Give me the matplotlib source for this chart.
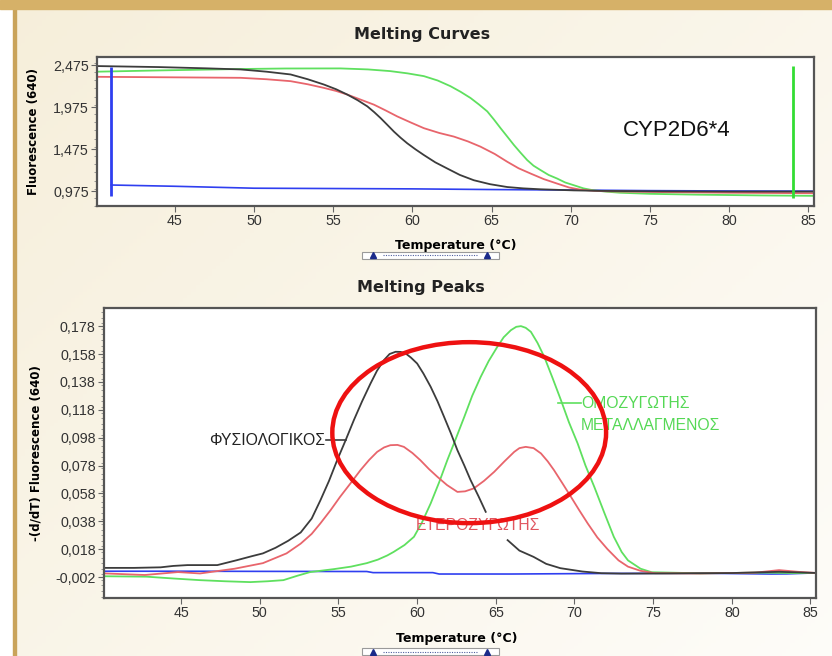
import numpy as np
import matplotlib
matplotlib.use("Agg")
import matplotlib.pyplot as plt
from matplotlib.patches import Ellipse, Rectangle
from matplotlib.ticker import FixedLocator, FuncFormatter, MultipleLocator

# ---- Melting curves (fluorescence vs temperature) ----
curve_black_t = [40.1, 44, 47, 49.16, 50.8, 52.32, 53.4, 54.42, 55.2, 55.9, 56.55, 57.16,
                 57.6, 58.0, 58.42, 58.84, 59.25, 59.68, 60.2, 60.73, 61.45, 62.2, 63.0,
                 63.88, 64.9, 65.99, 67, 68.1, 70.2, 72, 75, 80, 85.3]
curve_black_f = [2.467, 2.455, 2.44, 2.427, 2.40, 2.367, 2.31, 2.247, 2.19, 2.127, 2.06, 1.987,
                 1.917, 1.847, 1.767, 1.686, 1.615, 1.547, 1.475, 1.407, 1.32, 1.247, 1.17,
                 1.107, 1.06, 1.026, 1.01, 0.999, 0.986, 0.98, 0.975, 0.972, 0.972]

curve_red_t = [40.1, 44, 47, 49.16, 50.8, 52.32, 53.4, 54.42, 55.2, 55.9, 56.7, 57.58, 58.3,
               59.05, 59.9, 60.73, 61.7, 62.62, 63.5, 64.3, 65.2, 65.99, 66.7, 67.46, 68.3,
               69.14, 69.9, 70.6, 71.4, 72.3, 76, 80, 85.3]
curve_red_f = [2.339, 2.334, 2.33, 2.327, 2.31, 2.287, 2.25, 2.207, 2.17, 2.127, 2.07, 2.007,
               1.94, 1.867, 1.795, 1.727, 1.67, 1.627, 1.57, 1.507, 1.42, 1.327, 1.25, 1.187,
               1.12, 1.067, 1.02, 0.995, 0.982, 0.975, 0.965, 0.958, 0.952]

curve_green_t = [40.1, 44, 49.16, 52, 55.47, 57.2, 58.6, 59.7, 60.73, 61.6, 62.41, 63.05,
                 63.67, 64.2, 64.73, 65.15, 65.57, 66.0, 66.41, 66.83, 67.25, 67.65, 68.1,
                 68.6, 69.14, 69.65, 70.2, 70.8, 71.45, 72.3, 73.1, 75, 78, 82, 85.3]
curve_green_f = [2.40, 2.415, 2.432, 2.438, 2.439, 2.427, 2.407, 2.38, 2.347, 2.295, 2.227,
                 2.16, 2.087, 2.01, 1.927, 1.83, 1.727, 1.625, 1.527, 1.435, 1.347, 1.28,
                 1.227, 1.17, 1.127, 1.08, 1.047, 1.01, 0.986, 0.97, 0.958, 0.945, 0.935,
                 0.926, 0.921]

curve_blue_t = [41.0, 45, 50, 55, 60, 65, 70, 75, 80, 85.3]
curve_blue_f = [1.05, 1.035, 1.012, 1.008, 1.004, 0.996, 0.99, 0.983, 0.979, 0.977]

# cursor lines on the melting-curve panel
cursor_left = (41.0, 0.92, 2.45)
cursor_right = (84.0, 0.89, 2.467)

# ---- Melting peaks (-dF/dT vs temperature) ----
peak_black_t = [40.1, 42, 43.7, 44.5, 45.4, 46.5, 47.3, 48.5, 49.5, 50.2, 51.0, 51.8, 52.6,
                53.3, 53.85, 54.4, 54.92, 55.45, 55.98, 56.5, 57.04, 57.45, 57.89, 58.25,
                58.63, 58.95, 59.27, 59.6, 60.0, 60.4, 60.86, 61.3, 61.71, 62.15, 62.56,
                63.0, 63.4, 63.9, 64.36, 64.9, 65.75, 66.5, 67.4, 68.2, 69.1, 70.5, 71.7,
                73, 76, 80, 83, 85.3]
peak_black_v = [0.0046, 0.0046, 0.005, 0.006, 0.0066, 0.0066, 0.0066, 0.010, 0.013, 0.015,
                0.019, 0.024, 0.030, 0.040, 0.053, 0.067, 0.0819, 0.096, 0.1106, 0.124,
                0.1369, 0.146, 0.1536, 0.158, 0.1596, 0.1595, 0.1584, 0.1555, 0.1512,
                0.144, 0.1345, 0.124, 0.113, 0.101, 0.089, 0.078, 0.0675, 0.056, 0.0448,
                np.nan, 0.0245, 0.017, 0.0125, 0.0075, 0.0044, 0.002, 0.0008, 0.0005,
                0.0006, 0.0009, 0.0018, 0.001]

peak_red_t = [40.2, 42.7, 44.8, 46.2, 48.4, 50.2, 51.7, 52.6, 53.3, 53.85, 54.5, 55.1, 55.75,
              56.4, 56.95, 57.46, 57.9, 58.3, 58.75, 59.16, 59.7, 60.2, 60.75, 61.29, 61.9,
              62.56, 63.05, 63.6, 64.25, 64.9, 65.55, 66.17, 66.5, 66.9, 67.4, 67.87, 68.3,
              68.7, 69.25, 69.78, 70.3, 70.84, 71.45, 72.1, 72.8, 73.4, 74.2, 75.1, 78,
              81.5, 83, 84.2, 85.3]
peak_red_v = [0.0006, -0.0005, 0.0016, 0.0006, 0.004, 0.008, 0.015, 0.022, 0.029, 0.0365,
              0.046, 0.0555, 0.065, 0.0747, 0.082, 0.0878, 0.091, 0.0926, 0.0928, 0.0914,
              0.087, 0.0819, 0.0755, 0.0699, 0.064, 0.0591, 0.0595, 0.0616, 0.067, 0.0735,
              0.081, 0.0878, 0.0905, 0.0914, 0.0905, 0.0867, 0.081, 0.0747, 0.065, 0.0555,
              0.046, 0.0365, 0.0265, 0.018, 0.010, 0.0055, 0.0025, 0.0008, 0.0006, 0.0012,
              0.003, 0.0018, 0.001]

peak_green_t = [40.1, 42.8, 44.5, 46.2, 47.8, 49.4, 50.5, 51.5, 52.4, 53.2, 54.7, 55.8, 56.8,
                57.5, 58.1, 58.5, 59.2, 59.8, 60.3, 60.86, 61.4, 61.92, 62.45, 63.0, 63.5,
                64.04, 64.55, 65.1, 65.5, 65.96, 66.3, 66.6, 66.9, 67.23, 67.65, 68.08, 68.6,
                69.14, 69.65, 70.2, 70.7, 71.26, 71.9, 72.5, 73.0, 73.4, 74.2, 74.9, 78, 82,
                84, 85.3]
peak_green_v = [-0.0014, -0.0017, -0.003, -0.0042, -0.005, -0.0056, -0.005, -0.0042, -0.001,
                0.0016, 0.0037, 0.0055, 0.008, 0.0105, 0.0135, 0.016, 0.021, 0.0269, 0.037,
                0.0508, 0.066, 0.0819, 0.097, 0.113, 0.128, 0.1416, 0.153, 0.1632, 0.170,
                0.1751, 0.1775, 0.178, 0.1768, 0.1739, 0.166, 0.156, 0.141, 0.1249, 0.109,
                0.0939, 0.078, 0.0627, 0.044, 0.0269, 0.016, 0.010, 0.004, 0.0015, 0.0007,
                0.0012, 0.0009, 0.001]

peak_blue_t = [40.1, 45, 50, 56.8, 57.2, 61, 61.4, 66, 72, 78, 82.5, 83.5, 85.3]
peak_blue_v = [0.0022, 0.0022, 0.0021, 0.002, 0.0012, 0.0012, 0.0002, 0.0002, 0.0006,
               0.0008, 0.0002, 0.0003, 0.001]

curve_ticks = [0.975, 1.475, 1.975, 2.475]
peak_ticks = [-0.002, 0.018, 0.038, 0.058, 0.078, 0.098, 0.118, 0.138, 0.158, 0.178]
temp_ticks = [45, 50, 55, 60, 65, 70, 75, 80, 85]

BLACK = "#3c3c3c"
RED = "#e8656c"
GREEN = "#5fe05f"
BLUE = "#2f3ff0"

plt.rcParams["font.family"] = ["Liberation Sans", "DejaVu Sans"]


def comma(v, _pos=None):
    return f"{v:.3f}".replace(".", ",")


def style_axes(ax, yticks, minor_step):
    for s in ax.spines.values():
        s.set_color("#555555")
        s.set_linewidth(1.6)
    ax.set_facecolor("white")
    ax.set_xlim(40.1, 85.35)
    ax.xaxis.set_major_locator(FixedLocator(temp_ticks))
    ax.yaxis.set_major_locator(FixedLocator(yticks))
    ax.yaxis.set_major_formatter(FuncFormatter(comma))
    ax.yaxis.set_minor_locator(MultipleLocator(minor_step))
    ax.tick_params(axis="both", which="major", length=4, width=0.8, color="#666666",
                   labelsize=10.3, labelcolor="#333333", pad=2)
    ax.tick_params(axis="y", which="minor", length=2, width=0.6, color="#888888")


fig = plt.figure(figsize=(8.32, 6.56), dpi=100)

# cream page background with gold frame
bg = fig.add_axes([0, 0, 1, 1], zorder=-10)
gx = np.linspace(0, 1, 200)
gy = np.linspace(0, 1, 200)
GX, GY = np.meshgrid(gx, gy)
shade = 0.55 * (1 - GX) + 0.45 * GY
c0 = np.array([0.995, 0.99, 0.975])
c1 = np.array([0.965, 0.935, 0.855])
img = c0 + (c1 - c0) * shade[..., None]
bg.imshow(img, extent=[0, 1, 0, 1], aspect="auto", origin="lower")
bg.add_patch(Rectangle((0, 0), 14 / 832, 1, color="white", transform=bg.transAxes))
bg.add_patch(Rectangle((13 / 832, 0), 2.5 / 832, 1, color="#c9a35a", transform=bg.transAxes))
bg.add_patch(Rectangle((0, 1 - 9 / 656), 1, 9 / 656, color="#d6b168", transform=bg.transAxes))
bg.set_xlim(0, 1)
bg.set_ylim(0, 1)
bg.axis("off")


def scrollbar(y_px):
    y0 = 1 - (y_px + 7) / 656
    h = 7 / 656
    bg.add_patch(Rectangle((362 / 832, y0), 137 / 832, h, facecolor="white",
                           edgecolor="#9a9a9a", lw=0.8, transform=bg.transAxes))
    yc = y0 + h / 2
    bg.plot([383 / 832, 478 / 832], [yc, yc], ls=(0, (1, 1.2)), lw=0.8, color="#5060a0",
            transform=bg.transAxes)
    for xp in (373, 487):
        bg.plot([xp / 832], [yc], marker="^", ms=4, color="#1a2a8a",
                transform=bg.transAxes)


scrollbar(252)
scrollbar(648)

# ---------------- top panel ----------------
ax1 = fig.add_axes([97 / 832, 1 - 206 / 656, 717 / 832, 149 / 656])
style_axes(ax1, curve_ticks, 0.1)
ax1.set_ylim(0.80, 2.575)
ax1.plot(curve_blue_t, curve_blue_f, color=BLUE, lw=1.2)
ax1.plot(curve_green_t, curve_green_f, color=GREEN, lw=1.3)
ax1.plot(curve_red_t, curve_red_f, color=RED, lw=1.3)
ax1.plot(curve_black_t, curve_black_f, color=BLACK, lw=1.3)
ax1.vlines(cursor_left[0], cursor_left[1], cursor_left[2], color=BLUE, lw=2)
ax1.vlines(cursor_right[0], cursor_right[1], cursor_right[2], color="#33dd33", lw=2)
ax1.text(76.7, 1.70, "CYP2D6*4", fontsize=16, ha="center", va="center", color="#111111")
ax1.set_xlabel("Temperature (°C)", family="DejaVu Sans", fontweight="bold", fontsize=9)
ax1.xaxis.set_label_coords(0.5, -0.22)
ax1.set_ylabel("Fluorescence (640)", family="DejaVu Sans", fontweight="bold", fontsize=8.5)
ax1.yaxis.set_label_coords(-0.079, 0.5)
fig.text(422 / 832, 1 - 35 / 656, "Melting Curves", family="DejaVu Sans", fontweight="bold",
         fontsize=11.5, ha="center", va="center", color="#222222")

# ---------------- bottom panel ----------------
ax2 = fig.add_axes([104 / 832, 1 - 598 / 656, 712 / 832, 290 / 656])
style_axes(ax2, peak_ticks, 0.004)
ax2.set_ylim(-0.017, 0.191)
ax2.plot(peak_blue_t, peak_blue_v, color=BLUE, lw=1.2)
ax2.plot(peak_green_t, peak_green_v, color=GREEN, lw=1.3)
ax2.plot(peak_red_t, peak_red_v, color=RED, lw=1.3)
ax2.plot(peak_black_t, peak_black_v, color=BLACK, lw=1.3)

label_font = ["Liberation Sans", "DejaVu Sans"]
ax2.text(54.15, 0.0962, "ΦΥΣΙΟΛΟΓΙΚΟΣ", family=label_font, fontsize=11.3, color="#222222",
         ha="right", va="center")
ax2.plot([54.2, 55.5], [0.0962, 0.0962], color=BLACK, lw=1.2)
ax2.text(70.4, 0.1228, "ΟΜΟΖΥΓΩΤΗΣ", family=label_font, fontsize=11.3, color="#55d855",
         ha="left", va="center")
ax2.text(70.4, 0.1070, "ΜΕΤΑΛΛΑΓΜΕΝΟΣ", family=label_font, fontsize=11.3, color="#55d855",
         ha="left", va="center")
ax2.plot([68.95, 70.4], [0.1228, 0.1228], color=GREEN, lw=1.2)
ax2.text(59.9, 0.0353, "ΕΤΕΡΟΖΥΓΩΤΗΣ", family=label_font, fontsize=11.3, color="#e0555f",
         ha="left", va="center")

ax2.add_patch(Ellipse((63.31, 0.1016), width=17.4, height=0.1298, angle=0, fill=False,
                      edgecolor="#ee1111", lw=3.2, zorder=6))

ax2.set_xlabel("Temperature (°C)", family="DejaVu Sans", fontweight="bold", fontsize=9)
ax2.xaxis.set_label_coords(0.495, -0.117)
ax2.set_ylabel("-(d/dT) Fluorescence (640)", family="DejaVu Sans", fontweight="bold",
               fontsize=8.5)
ax2.yaxis.set_label_coords(-0.087, 0.5)
fig.text(421 / 832, 1 - 288 / 656, "Melting Peaks", family="DejaVu Sans", fontweight="bold",
         fontsize=11.5, ha="center", va="center", color="#222222")

fig.savefig("out.png", dpi=100)
